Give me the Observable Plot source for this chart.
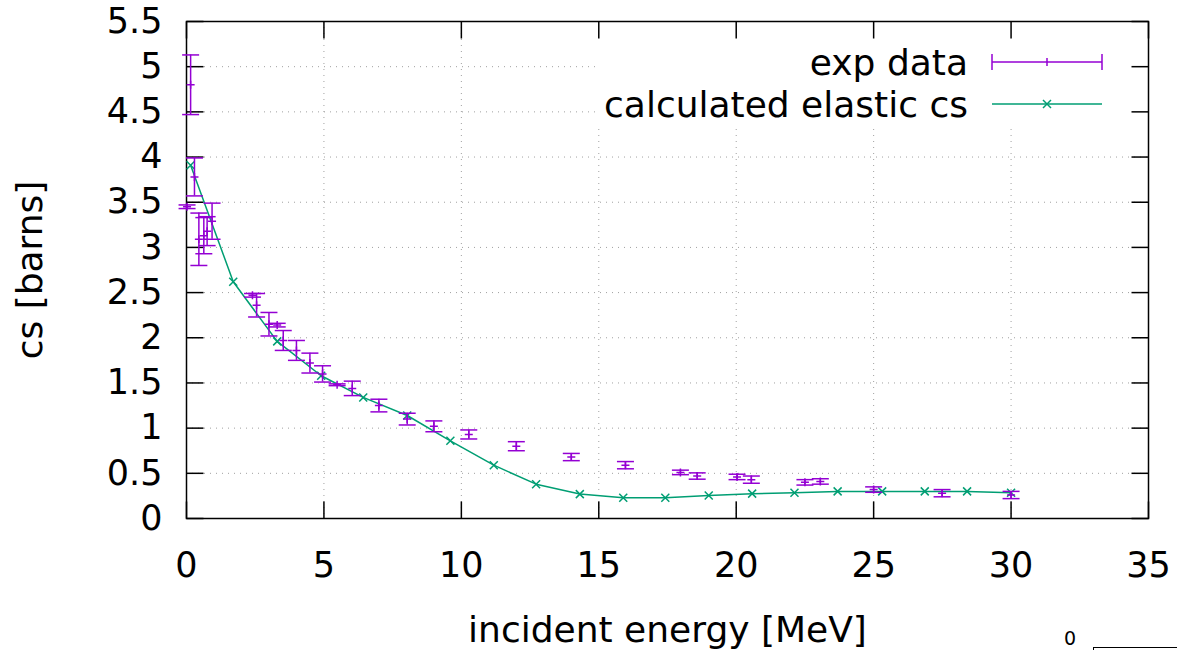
<!DOCTYPE html>
<html>
<head>
<meta charset="utf-8">
<script src="https://cdn.jsdelivr.net/npm/d3@7"></script>
<script src="https://cdn.jsdelivr.net/npm/@observablehq/plot@0.6"></script>
<style>
  html, body { margin: 0; padding: 0; background: #fff; }
  #chart { position: relative; width: 1177px; height: 650px; overflow: hidden; }
  #chart svg { display: block; }
  .next-panel-label { position: absolute; left: 1064px; top: 628px; font: 19px "DejaVu Sans", sans-serif; line-height: 20px; color: #000; }
  .next-panel-frame { position: absolute; left: 1093px; top: 647px; width: 100px; height: 20px;
                      border-left: 1.5px solid #000; border-top: 1.5px solid #000; }
</style>
</head>
<body>
<div id="chart"></div>
<script>
// Measured elastic cross sections (incident energy in MeV, cs in barns, +/- error)
const expEnergy = [0.15, 0.02, 0.29, 0.45, 0.63, 0.75, 0.93, 2.40, 2.55, 3.00, 3.30, 3.52, 4.00, 4.49, 4.95, 5.48, 6.03, 7.00, 8.03, 9.00, 10.27, 12.0, 14.0, 15.97, 17.97, 18.58, 20.03, 20.55, 22.5, 23.06, 25.0, 27.49, 30.0];
const expCs     = [4.80, 3.45, 3.78, 3.09, 3.13, 3.18, 3.29, 2.47, 2.36, 2.15, 2.14, 1.97, 1.86, 1.72, 1.60, 1.48, 1.44, 1.25, 1.10, 1.02, 0.93, 0.80, 0.68, 0.59, 0.51, 0.47, 0.46, 0.43, 0.40, 0.41, 0.32, 0.28, 0.26];
const expErr    = [0.33, 0.02, 0.21, 0.29, 0.20, 0.16, 0.20, 0.02, 0.13, 0.13, 0.02, 0.11, 0.11, 0.11, 0.09, 0.01, 0.08, 0.07, 0.065, 0.06, 0.05, 0.05, 0.04, 0.04, 0.025, 0.035, 0.03, 0.04, 0.03, 0.03, 0.03, 0.04, 0.04];

// Model calculation of the elastic cross section
const calcEnergy = [0.15, 1.70, 3.30, 4.90, 6.43, 8.03, 9.60, 11.18, 12.72, 14.31, 15.89, 17.42, 19.00, 20.58, 22.12, 23.69, 25.31, 26.86, 28.40, 30.00];
const calcCs     = [3.91, 2.62, 1.96, 1.58, 1.34, 1.14, 0.86, 0.59, 0.38, 0.27, 0.23, 0.23, 0.255, 0.275, 0.285, 0.30, 0.30, 0.30, 0.30, 0.285];

// Axis ticks
const xTicks = [0, 5, 10, 15, 20, 25, 30, 35];
const yTicks = [0, 0.5, 1, 1.5, 2, 2.5, 3, 3.5, 4, 4.5, 5, 5.5];

// Key entries
const keyLabels = ["exp data", "calculated elastic cs"];

const expColor = "#9400d3";
const calcColor = "#009e73";
const fontFamily = "DejaVu Sans, sans-serif";
const fontSize = 35;
const titleSize = 36;

const exp = expEnergy.map((x, i) => ({x, y: expCs[i], lo: expCs[i] - expErr[i], hi: expCs[i] + expErr[i]}));
const calc = calcEnergy.map((x, i) => ({x, y: calcCs[i]}));

// Path-based symbols: error bar caps, point markers and inward tick marks
const seg = (x1, y1, x2, y2) => ({draw(ctx) { ctx.moveTo(x1, y1); ctx.lineTo(x2, y2); }});
const capSymbol = seg(-8.5, 0, 8.5, 0);
const plusSymbol = {draw(ctx) { ctx.moveTo(-4, 0); ctx.lineTo(4, 0); ctx.moveTo(0, -4); ctx.lineTo(0, 4); }};
const crossSymbol = {draw(ctx) { const s = 4; ctx.moveTo(-s, -s); ctx.lineTo(s, s); ctx.moveTo(-s, s); ctx.lineTo(s, -s); }};
const TICK = 17;
const tickUp = seg(0, 0, 0, -TICK), tickDown = seg(0, 0, 0, TICK);
const tickRight = seg(0, 0, TICK, 0), tickLeft = seg(0, 0, -TICK, 0);

const dimsOf = (args) => args.find(a => a && typeof a === "object" && "marginRight" in a && "width" in a);

// Opaque key box that hides the grid behind the key
function keyBackground(...args) {
  const d = dimsOf(args);
  const right = d.width - d.marginRight;
  return d3.create("svg:rect")
    .attr("x", right - 553).attr("y", d.marginTop + 1)
    .attr("width", 552).attr("height", 104)
    .attr("fill", "white").node();
}

// Key: labels right-aligned, samples to their right
function keyPanel(...args) {
  const d = dimsOf(args);
  const right = d.width - d.marginRight;
  const g = d3.create("svg:g")
    .attr("font-family", fontFamily).attr("font-size", titleSize).attr("fill", "black");
  keyLabels.forEach((label, i) => {
    const cy = d.marginTop + 41 + i * 42;
    g.append("text").attr("x", right - 180).attr("y", cy).attr("dy", "0.35em")
      .attr("text-anchor", "end").text(label);
    const x0 = right - 156, x1 = right - 46, xm = (x0 + x1) / 2;
    if (i === 0) {
      const p = g.append("g").attr("stroke", expColor).attr("stroke-width", 1.5).attr("fill", "none");
      p.append("line").attr("x1", x0).attr("x2", x1).attr("y1", cy).attr("y2", cy);
      p.append("line").attr("x1", x0).attr("x2", x0).attr("y1", cy - 8).attr("y2", cy + 8);
      p.append("line").attr("x1", x1).attr("x2", x1).attr("y1", cy - 8).attr("y2", cy + 8);
      p.append("line").attr("x1", xm).attr("x2", xm).attr("y1", cy - 4).attr("y2", cy + 4);
    } else {
      const p = g.append("g").attr("stroke", calcColor).attr("stroke-width", 1.5).attr("fill", "none");
      p.append("line").attr("x1", x0).attr("x2", x1).attr("y1", cy).attr("y2", cy);
      p.append("path").attr("d", `M${xm - 4},${cy - 4}L${xm + 4},${cy + 4}M${xm - 4},${cy + 4}L${xm + 4},${cy - 4}`);
    }
  });
  return g.node();
}

const gridStyle = {stroke: "#a0a0a0", strokeOpacity: 1, strokeWidth: 1, strokeDasharray: "1,5"};
const inner = (arr) => arr.slice(1, -1);

const chart = Plot.plot({
  width: 1177,
  height: 650,
  marginLeft: 186,
  marginRight: 29,
  marginTop: 21,
  marginBottom: 132,
  style: {fontFamily, fontSize: `${fontSize}px`, color: "black", background: "white"},
  x: {domain: [0, 35], axis: null},
  y: {domain: [0, 5.5], axis: null},
  marks: [
    Plot.ruleX(inner(xTicks), gridStyle),
    Plot.ruleY(inner(yTicks), gridStyle),
    keyBackground,
    Plot.axisX({ticks: xTicks, tickSize: 0, tickPadding: 34, fontSize, label: null, tickFormat: d => String(d)}),
    Plot.axisY({ticks: yTicks, tickSize: 0, tickPadding: 24, fontSize, label: null, tickFormat: d => String(d)}),
    Plot.dot(xTicks, {x: d => d, frameAnchor: "bottom", symbol: tickUp, stroke: "black", strokeWidth: 1.5}),
    Plot.dot(xTicks, {x: d => d, frameAnchor: "top", symbol: tickDown, stroke: "black", strokeWidth: 1.5}),
    Plot.dot(yTicks, {y: d => d, frameAnchor: "left", symbol: tickRight, stroke: "black", strokeWidth: 1.5}),
    Plot.dot(yTicks, {y: d => d, frameAnchor: "right", symbol: tickLeft, stroke: "black", strokeWidth: 1.5}),
    Plot.frame({stroke: "black", strokeWidth: 1.5}),
    // calculated curve
    Plot.line(calc, {x: "x", y: "y", stroke: calcColor, strokeWidth: 1.5}),
    Plot.dot(calc, {x: "x", y: "y", symbol: crossSymbol, stroke: calcColor, strokeWidth: 1.5}),
    // experimental points with error bars
    Plot.ruleX(exp, {x: "x", y1: "lo", y2: "hi", stroke: expColor, strokeWidth: 1.5}),
    Plot.dot(exp, {x: "x", y: "lo", symbol: capSymbol, stroke: expColor, strokeWidth: 1.5}),
    Plot.dot(exp, {x: "x", y: "hi", symbol: capSymbol, stroke: expColor, strokeWidth: 1.5}),
    Plot.dot(exp, {x: "x", y: "y", symbol: plusSymbol, stroke: expColor, strokeWidth: 1.5}),
    // axis titles
    Plot.text(["incident energy [MeV]"], {frameAnchor: "bottom", lineAnchor: "middle", textAnchor: "middle", dy: 112, fontSize: titleSize, fill: "black"}),
    Plot.text(["cs [barns]"], {frameAnchor: "left", lineAnchor: "middle", textAnchor: "middle", rotate: -90, dx: -156, fontSize: titleSize, fill: "black"}),
    keyPanel
  ]
});

const host = document.getElementById("chart");
host.appendChild(chart);
// Edge of the adjacent panel below-right
const stubLabel = document.createElement("div");
stubLabel.className = "next-panel-label";
stubLabel.textContent = "0";
host.appendChild(stubLabel);
const stubFrame = document.createElement("div");
stubFrame.className = "next-panel-frame";
host.appendChild(stubFrame);
</script>
</body>
</html>
